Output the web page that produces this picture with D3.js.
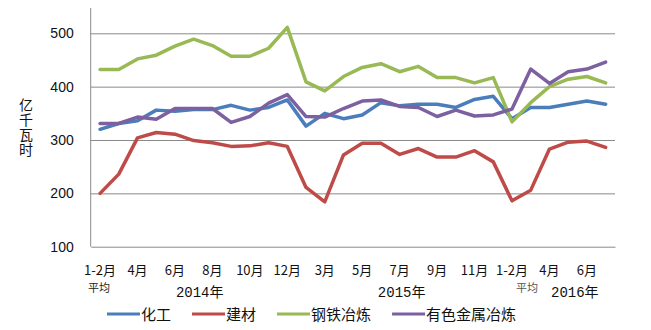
<!DOCTYPE html>
<html>
<head>
<meta charset="utf-8">
<script src="https://cdn.jsdelivr.net/npm/d3@7/dist/d3.min.js"></script>
<style>
  html, body { margin: 0; padding: 0; background: #fff; }
  svg { display: block; }
</style>
</head>
<body>
<svg id="chart" width="651" height="330"></svg>
<script>
// Monthly categories: 2014 (1-2月平均 … 12月), 2015 (1-2月平均 … 12月), 2016 (1-2月平均 … 7月)
const months = [
  "1-2月","3月","4月","5月","6月","7月","8月","9月","10月","11月","12月",
  "1-2月","3月","4月","5月","6月","7月","8月","9月","10月","11月","12月",
  "1-2月","3月","4月","5月","6月","7月"
];
const years = [
  { label: "2014年", start: 0,  end: 10 },
  { label: "2015年", start: 11, end: 21 },
  { label: "2016年", start: 22, end: 27 }
];
const avgNote = "平均";
const yTicks = [100, 200, 300, 400, 500];
const yTitle = "亿千瓦时";

const seriesNames = ["化工", "建材", "钢铁冶炼", "有色金属冶炼"];
const chemical   = [320,331,336,356,354,357,357,365,356,361,375,326,350,340,347,370,364,367,367,361,376,382,340,361,361,367,373,367];
const building   = [200,236,304,314,311,299,295,288,289,295,288,211,184,272,294,294,273,284,268,268,280,259,186,206,283,296,298,286];
const steel      = [432,432,452,459,476,489,477,457,457,472,511,409,392,419,436,443,428,438,417,417,407,417,334,370,400,414,419,407];
const nonferrous = [331,331,343,339,359,359,359,333,344,369,385,344,343,359,373,375,363,361,344,356,345,347,358,433,406,428,433,446];

const seriesValues = [chemical, building, steel, nonferrous];
const colors = ["#4a7ebb", "#be4b48", "#98b954", "#7d60a0"];

const svg = d3.select("#chart");
const plotLeft = 90.7, plotRight = 615, plotTop = 8, plotBottom = 246.7;

const x = d3.scaleBand()
  .domain(months.map((_, i) => i))
  .range([plotLeft, plotRight])
  .padding(0);
const cx = i => x(i) + x.bandwidth() / 2;

const y = d3.scaleLinear().domain([100, 500]).range([plotBottom, 33.3]);

const cjk = "'Noto Sans CJK SC', 'Noto Sans', sans-serif";

// Horizontal gridlines and y tick labels
const yAxis = svg.append("g")
  .attr("transform", `translate(${plotLeft},0)`)
  .call(d3.axisLeft(y).tickValues(yTicks).tickSize(-(plotRight - plotLeft)).tickPadding(17).tickFormat(d3.format("d")));
yAxis.select(".domain").remove();
yAxis.selectAll(".tick line").attr("stroke", "#8a8a8a").attr("stroke-width", 1)
  .filter(d => d === 100).remove();
yAxis.selectAll(".tick text")
  .attr("font-family", "'Liberation Sans', Arial, sans-serif")
  .attr("font-size", 14)
  .attr("fill", "#111");

// Vertical axis line
svg.append("line")
  .attr("x1", plotLeft).attr("x2", plotLeft)
  .attr("y1", plotTop).attr("y2", plotBottom)
  .attr("stroke", "#8a8a8a").attr("stroke-width", 1);

// Category axis with labels on every second month
const xAxis = svg.append("g")
  .attr("transform", `translate(0,${plotBottom})`)
  .call(d3.axisBottom(x).tickSize(0).tickPadding(0)
    .tickFormat(i => (i % 2 === 0 ? months[i] : "")));
xAxis.select(".domain").attr("stroke", "#8a8a8a");
xAxis.selectAll(".tick text")
  .attr("font-family", cjk)
  .attr("font-size", 13)
  .attr("fill", "#111")
  .attr("dy", null)
  .attr("y", 28);

// "平均" note under the labelled 1-2月 ticks (2014 and 2016)
const avgNotes = [
  { idx: years[0].start, dx: -1, fill: "#222" },
  { idx: years[2].start, dx: 15, fill: "#555" }
];
avgNotes.forEach(n => {
  svg.append("text")
    .attr("x", cx(n.idx) + n.dx)
    .attr("y", 291.5)
    .attr("text-anchor", "middle")
    .attr("font-family", cjk)
    .attr("font-size", 11)
    .attr("fill", n.fill)
    .text(avgNote);
});

// Year group labels
const yearShift = [6, 2, 16];
years.forEach((g, k) => {
  const mid = (x(g.start) + x(g.end) + x.bandwidth()) / 2;
  svg.append("text")
    .attr("x", mid + yearShift[k])
    .attr("y", 297)
    .attr("text-anchor", "middle")
    .attr("font-family", "'Liberation Mono', 'Noto Sans CJK SC', monospace")
    .attr("font-size", 14)
    .attr("fill", "#111")
    .text(g.label);
});

// Y axis title, characters stacked vertically
svg.append("text")
  .attr("x", 26)
  .attr("y", 98)
  .attr("font-family", cjk)
  .attr("font-size", 14)
  .attr("fill", "#111")
  .style("writing-mode", "vertical-rl")
  .style("text-orientation", "upright")
  .style("letter-spacing", "1px")
  .text(yTitle);

// Series lines
const line = d3.line()
  .x((d, i) => cx(i))
  .y(d => y(d));

seriesValues.forEach((vals, k) => {
  svg.append("path")
    .datum(vals)
    .attr("fill", "none")
    .attr("stroke", colors[k])
    .attr("stroke-width", 3.5)
    .attr("stroke-linejoin", "round")
    .attr("stroke-linecap", "round")
    .attr("d", line);
});

// Legend
const legend = svg.append("g").attr("transform", "translate(107,314)");
let lx = 0;
seriesNames.forEach((name, k) => {
  const g = legend.append("g").attr("transform", `translate(${lx},0)`);
  g.append("line")
    .attr("x1", 0).attr("x2", 33)
    .attr("y1", 0).attr("y2", 0)
    .attr("stroke", colors[k]).attr("stroke-width", 3);
  const t = g.append("text")
    .attr("x", 34)
    .attr("y", 5.5)
    .attr("font-family", cjk)
    .attr("font-size", 15)
    .attr("fill", "#111")
    .text(name);
  lx += 34 + t.node().getComputedTextLength() + 21;
});
</script>
</body>
</html>
